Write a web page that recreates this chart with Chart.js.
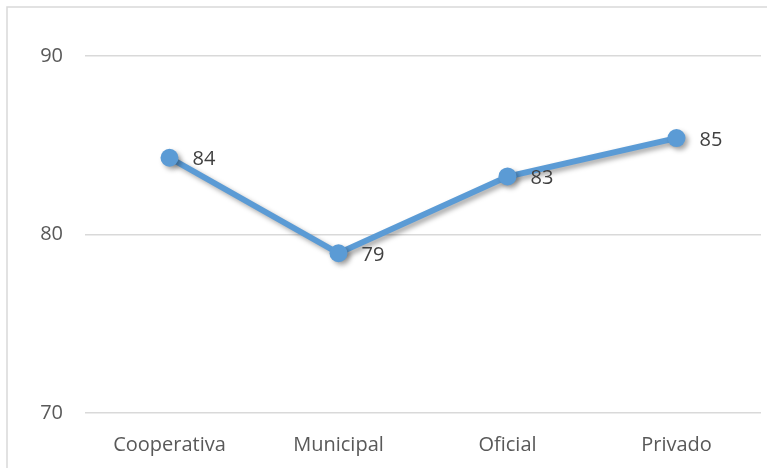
<!DOCTYPE html>
<html>
<head>
<meta charset="utf-8">
<script src="https://cdn.jsdelivr.net/npm/chart.js@4"></script>
<style>
html,body{margin:0;padding:0;background:#fff;overflow:hidden;}
#wrap{width:767px;height:468px;position:relative;overflow:hidden;}
</style>
</head>
<body>
<div id="wrap"><canvas id="c" width="770" height="468"></canvas></div>
<script>
const categories = ["Cooperativa", "Municipal", "Oficial", "Privado"];
const values = [84.3, 78.95, 83.25, 85.4];
const dataLabels = ["84", "79", "83", "85"];
const yTicks = [70, 80, 90];

const FONT = "'Open Sans', 'DejaVu Sans', sans-serif";

const borderPlugin = {
  id: 'border',
  beforeDraw(chart) {
    const ctx = chart.ctx;
    ctx.save();
    ctx.fillStyle = '#ffffff';
    ctx.fillRect(0, 0, chart.width, chart.height);
    ctx.strokeStyle = '#d9d9d9';
    ctx.lineWidth = 1.5;
    ctx.strokeRect(7, 7, 900, 600);
    ctx.restore();
  }
};

const shadowPlugin = {
  id: 'shadow',
  beforeDatasetsDraw(chart) {
    const ctx = chart.ctx;
    ctx.save();
    ctx.shadowColor = 'rgba(0,0,0,0.35)';
    ctx.shadowBlur = 5;
    ctx.shadowOffsetX = 3;
    ctx.shadowOffsetY = 3;
  },
  afterDatasetsDraw(chart) {
    chart.ctx.restore();
  }
};

const labelPlugin = {
  id: 'pointLabels',
  afterDatasetsDraw(chart) {
    const ctx = chart.ctx;
    const meta = chart.getDatasetMeta(0);
    ctx.save();
    ctx.font = "20px " + FONT;
    ctx.fillStyle = '#404040';
    ctx.textAlign = 'left';
    ctx.textBaseline = 'middle';
    meta.data.forEach((pt, i) => {
      ctx.fillText(dataLabels[i], pt.x + 23, pt.y + 2);
    });
    ctx.restore();
  }
};

new Chart(document.getElementById('c'), {
  type: 'line',
  data: {
    labels: categories,
    datasets: [{
      data: values,
      borderColor: '#5b9bd5',
      backgroundColor: '#5b9bd5',
      borderWidth: 6,
      pointRadius: 9,
      pointHoverRadius: 9,
      pointBackgroundColor: '#5b9bd5',
      pointBorderColor: '#5b9bd5',
      pointBorderWidth: 0,
      tension: 0,
      fill: false
    }]
  },
  options: {
    responsive: false,
    animation: false,
    devicePixelRatio: 1,
    layout: { padding: { left: 0, top: 56, right: 0, bottom: 0 } },
    plugins: { legend: { display: false }, tooltip: { enabled: false } },
    scales: {
      x: {
        offset: true,
        grid: { display: false, drawTicks: false },
        border: { display: false },
        ticks: { color: '#595959', font: { family: FONT, size: 20 }, padding: 20, maxRotation: 0 },
        afterFit(s) { s.height = 55; }
      },
      y: {
        min: 70, max: 90,
        afterBuildTicks(s) { s.ticks = yTicks.map(v => ({ value: v })); },
        grid: { color: '#d9d9d9', lineWidth: 1.5, drawTicks: false },
        border: { display: false },
        ticks: { color: '#595959', font: { family: FONT, size: 20 }, padding: 22 },
        afterFit(s) { s.width = 85; }
      }
    }
  },
  plugins: [borderPlugin, shadowPlugin, labelPlugin]
});
</script>
</body>
</html>
